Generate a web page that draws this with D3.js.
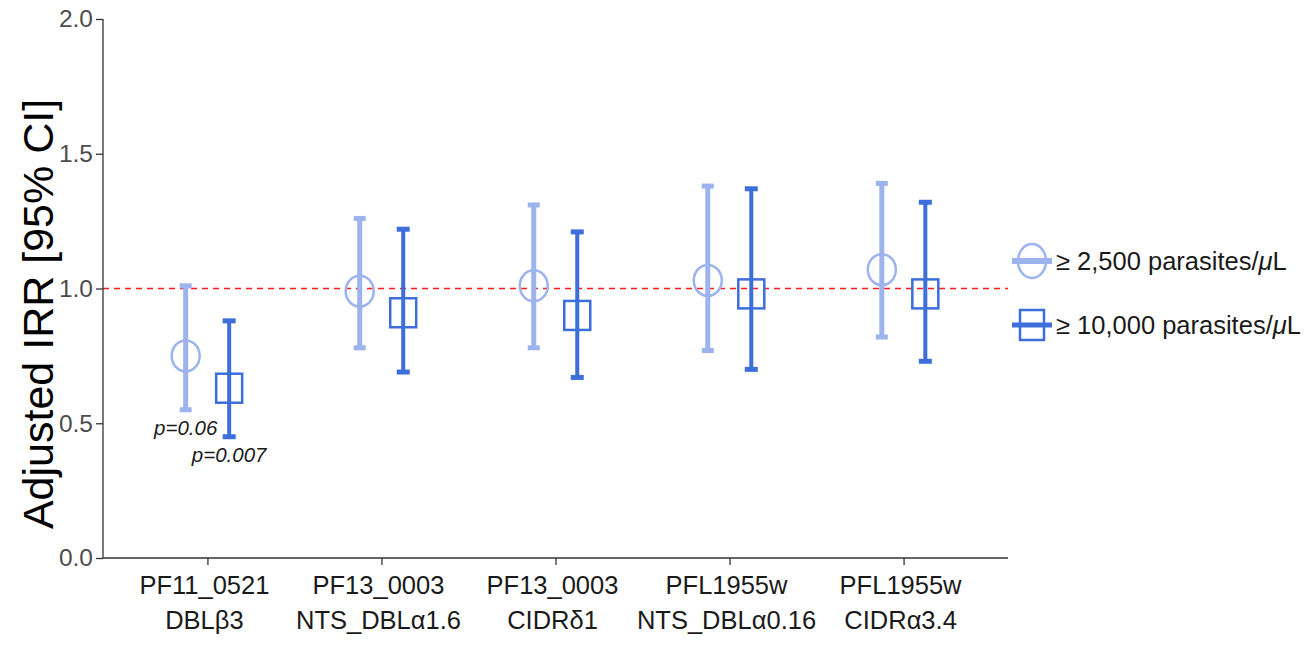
<!DOCTYPE html>
<html>
<head>
<meta charset="utf-8">
<script src="https://cdn.jsdelivr.net/npm/d3@7"></script>
<style>
	body { margin: 0; background: #fff; }
	svg { display: block; font-family: "Liberation Sans", Arial, sans-serif; }
</style>
</head>
<body>
<div id="chart"></div>
<script>

	// antigen categories (two-line labels)
	var line1 = ['PF11_0521', 'PF13_0003', 'PF13_0003', 'PFL1955w', 'PFL1955w']
	var line2 = ['DBLβ3', 'NTS_DBLα1.6', 'CIDRδ1', 'NTS_DBLα0.16', 'CIDRα3.4']

	// >= 2,500 parasites/uL
	var irr_low = [0.75, 0.99, 1.01, 1.03, 1.07]
	var lo_low = [0.55, 0.78, 0.78, 0.77, 0.82]
	var hi_low = [1.01, 1.26, 1.31, 1.38, 1.39]

	// >= 10,000 parasites/uL
	var irr_high = [0.63, 0.91, 0.90, 0.98, 0.98]
	var lo_high = [0.45, 0.69, 0.67, 0.70, 0.73]
	var hi_high = [0.88, 1.22, 1.21, 1.37, 1.32]

	var p_low = ['p=0.06', null, null, null, null]
	var p_high = ['p=0.007', null, null, null, null]

	var y_ticks = [0, 0.5, 1, 1.5, 2]
	var series_names = ['≥ 2,500 parasites/', '≥ 10,000 parasites/']

	var width = 1310,
		height = 647,
		light = '#9db3ee',
		dark = '#3c6fdb',
		dodge = 0.125

	var svg = d3.select('#chart')
		.append('svg')
		.attr('width', width)
		.attr('height', height)

	var x = d3.scaleLinear()
		.domain([0.4, 5.6])
		.range([103, 1008])

	var y = d3.scaleLinear()
		.domain([0, 2])
		.range([558, 19])

	var series = [
		{name: series_names[0], est: irr_low, lo: lo_low, hi: hi_low, p: p_low, color: light, bar: 5, cap: 12, off: -dodge, shape: 'circle'},
		{name: series_names[1], est: irr_high, lo: lo_high, hi: hi_high, p: p_high, color: dark, bar: 4, cap: 13, off: dodge, shape: 'square'}
	]

	// reference line
	svg.append('line')
		.attr('x1', x(0.4))
		.attr('x2', x(5.6))
		.attr('y1', y(1))
		.attr('y2', y(1))
		.attr('stroke', '#ff1a1a')
		.attr('stroke-width', 1.5)
		.attr('stroke-dasharray', '6,5')

	// y axis
	var y_axis = svg.append('g')
		.attr('transform', 'translate(' + x(0.4) + ',0)')
		.call(d3.axisLeft(y)
			.tickValues(y_ticks)
			.tickSize(7)
			.tickPadding(3)
			.tickFormat(d3.format('.1f')))

	y_axis.select('.domain')
		.attr('stroke', '#333')
		.attr('stroke-width', 1.3)
		.attr('d', 'M0,' + y(0) + 'V' + y(2))

	y_axis.selectAll('.tick line')
		.attr('stroke', '#333')
		.attr('stroke-width', 1.3)

	y_axis.selectAll('.tick text')
		.attr('fill', '#4d4d4d')
		.attr('font-size', 24.5)
		.attr('font-family', '"Liberation Sans", Arial, sans-serif')

	// x axis
	var x_axis = svg.append('g')
		.attr('transform', 'translate(0,' + y(0) + ')')
		.call(d3.axisBottom(x)
			.tickValues(d3.range(1, 6))
			.tickSize(7)
			.tickFormat(''))

	x_axis.select('.domain')
		.attr('stroke', '#333')
		.attr('stroke-width', 1.3)
		.attr('d', 'M' + x(0.4) + ',0H' + x(5.6))

	x_axis.selectAll('.tick line')
		.attr('stroke', '#333')
		.attr('stroke-width', 1.3)

	var x_labels = svg.append('g')
		.selectAll('text')
		.data(line1)
		.join('text')
			.attr('x', (d, i) => x(i + 1) - 3)
			.attr('y', 594)
			.attr('text-anchor', 'middle')
			.attr('font-size', 25.5)
			.attr('fill', '#1a1a1a')

	x_labels.append('tspan')
		.text(d => d)

	x_labels.append('tspan')
		.attr('x', (d, i) => x(i + 1) - 3)
		.attr('dy', 35)
		.text((d, i) => line2[i])

	// y title
	svg.append('text')
		.attr('transform', 'translate(53,314) rotate(-90)')
		.attr('text-anchor', 'middle')
		.attr('font-size', 43)
		.attr('fill', '#000')
		.text('Adjusted IRR [95% CI]')

	// error bars and markers
	series.forEach(s => {

		var g = svg.append('g')
		var idx = d3.range(s.est.length)
		var cx = i => x(i + 1 + s.off)

		g.selectAll('line.bar')
			.data(idx)
			.join('line')
				.attr('class', 'bar')
				.attr('x1', cx)
				.attr('x2', cx)
				.attr('y1', i => y(s.lo[i]))
				.attr('y2', i => y(s.hi[i]))
				.attr('stroke', s.color)
				.attr('stroke-width', s.bar)

		g.selectAll('line.cap')
			.data(idx.flatMap(i => [[i, s.lo[i]], [i, s.hi[i]]]))
			.join('line')
				.attr('class', 'cap')
				.attr('x1', d => cx(d[0]) - s.cap / 2)
				.attr('x2', d => cx(d[0]) + s.cap / 2)
				.attr('y1', d => y(d[1]))
				.attr('y2', d => y(d[1]))
				.attr('stroke', s.color)
				.attr('stroke-width', 5)

		if (s.shape == 'circle') {

			g.selectAll('ellipse')
				.data(idx)
				.join('ellipse')
					.attr('cx', cx)
					.attr('cy', i => y(s.est[i]))
					.attr('rx', 14)
					.attr('ry', 15.5)
					.attr('fill', 'none')
					.attr('stroke', s.color)
					.attr('stroke-width', 2.5)

		} else {

			g.selectAll('rect')
				.data(idx)
				.join('rect')
					.attr('x', i => cx(i) - 13)
					.attr('y', i => y(s.est[i]) - 14.5)
					.attr('width', 26)
					.attr('height', 29)
					.attr('fill', 'none')
					.attr('stroke', s.color)
					.attr('stroke-width', 2.5)

		}

		g.selectAll('text')
			.data(idx.filter(i => s.p[i]))
			.join('text')
				.attr('x', cx)
				.attr('y', i => y(s.lo[i]) + 25)
				.attr('text-anchor', 'middle')
				.attr('font-size', 20.5)
				.attr('font-style', 'italic')
				.attr('fill', '#1a1a1a')
				.text(i => s.p[i])

	})

	// legend
	var legend = svg.append('g')
		.selectAll('g')
		.data(series)
		.join('g')
			.attr('transform', (d, i) => 'translate(1032,' + (261 + i * 64) + ')')

	legend.append('line')
		.attr('x1', -20)
		.attr('x2', 20)
		.attr('stroke', d => d.color)
		.attr('stroke-width', d => d.bar + 1)

	legend.filter(d => d.shape == 'circle')
		.append('ellipse')
		.attr('rx', 14)
		.attr('ry', 17)
		.attr('fill', 'none')
		.attr('stroke', d => d.color)
		.attr('stroke-width', 2.5)

	legend.filter(d => d.shape == 'square')
		.append('rect')
		.attr('x', -12)
		.attr('y', -15)
		.attr('width', 24)
		.attr('height', 30)
		.attr('fill', 'none')
		.attr('stroke', d => d.color)
		.attr('stroke-width', 2.5)

	var legend_text = legend.append('text')
		.attr('x', 24)
		.attr('y', 9)
		.attr('font-size', 25.5)
		.attr('fill', '#1a1a1a')

	legend_text.append('tspan')
		.text(d => d.name)

	legend_text.append('tspan')
		.attr('font-style', 'italic')
		.text('μ')

	legend_text.append('tspan')
		.text('L')

</script>
</body>
</html>
